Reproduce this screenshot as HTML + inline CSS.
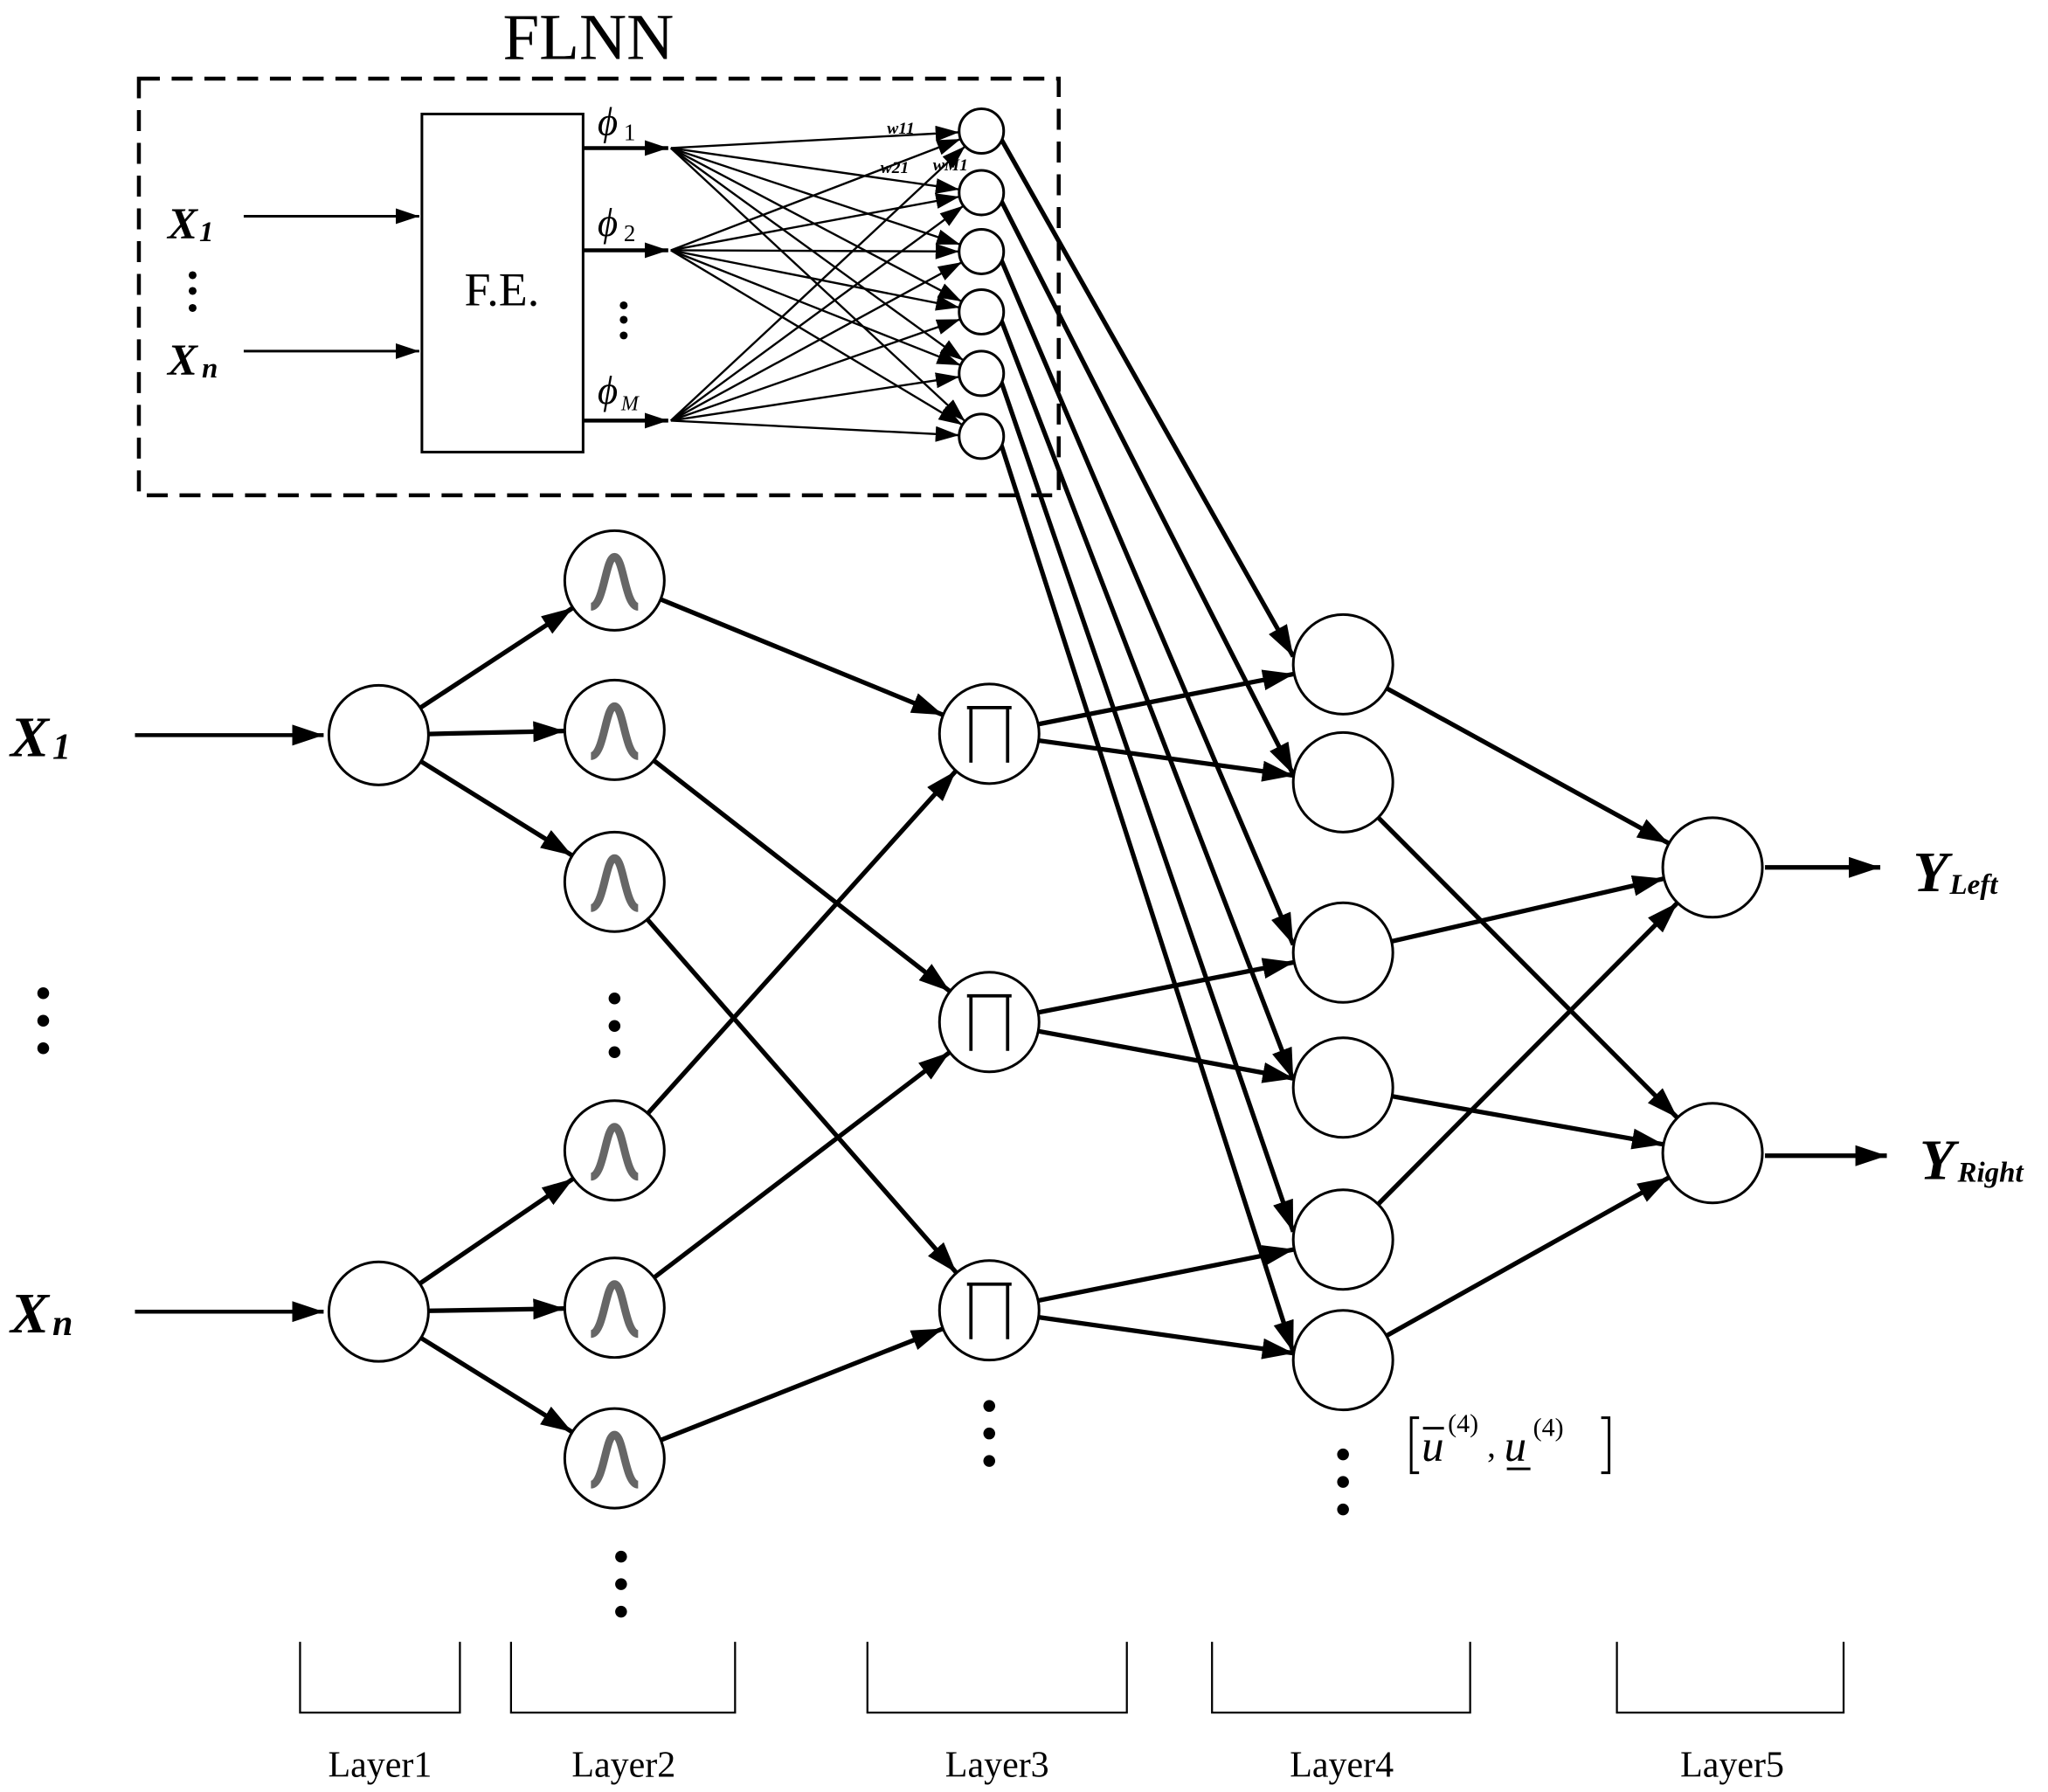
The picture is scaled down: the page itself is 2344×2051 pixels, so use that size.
<!DOCTYPE html>
<html><head><meta charset="utf-8"><style>
html,body{margin:0;padding:0;background:#fff}
svg{display:block}
text{font-family:"Liberation Serif",serif;fill:#000}
.b{font-weight:bold;font-style:italic}
</style></head><body>
<svg id="s" xmlns="http://www.w3.org/2000/svg" width="2344" height="2051" viewBox="0 0 1563 1367.6">
<defs>
<marker id="a" markerUnits="userSpaceOnUse" markerWidth="26" markerHeight="20" refX="24" refY="8" orient="auto"><path d="M0,0 L24,8 L0,16 Z" fill="#000"/></marker>
<marker id="s1" markerUnits="userSpaceOnUse" markerWidth="20" markerHeight="14" refX="18" refY="6" orient="auto"><path d="M0,0 L18,6 L0,12 Z" fill="#000"/></marker>
</defs>
<rect x="106" y="60" width="702" height="318" fill="none" stroke="#000" stroke-width="3" stroke-dasharray="16,9"/>
<text x="449" y="45" font-size="50" text-anchor="middle">FLNN</text>
<rect x="322" y="87" width="123" height="258" fill="none" stroke="#000" stroke-width="2"/>
<text x="383" y="233" font-size="36" text-anchor="middle">F.E.</text>
<text x="128" y="182" font-size="34" class="b">X</text><text x="152" y="184" font-size="22" class="b">1</text>
<text x="128" y="286" font-size="34" class="b">X</text><text x="154" y="288" font-size="22" class="b">n</text>
<circle cx="147" cy="210" r="3"/><circle cx="147" cy="222" r="3"/><circle cx="147" cy="235" r="3"/>
<text x="456" y="103" font-size="30" font-style="italic">ϕ</text><text x="476" y="107" font-size="18">1</text>
<text x="456" y="180" font-size="30" font-style="italic">ϕ</text><text x="476" y="184" font-size="18">2</text>
<text x="456" y="308" font-size="30" font-style="italic">ϕ</text><text x="474" y="313" font-size="16" font-style="italic">M</text>
<circle cx="476" cy="233" r="3"/><circle cx="476" cy="244" r="3"/><circle cx="476" cy="256" r="3"/>
<text x="677" y="102" font-size="13" class="b">w11</text>
<text x="672" y="132" font-size="13" class="b">w21</text>
<text x="712" y="130" font-size="13" class="b">wM1</text>
<text x="8" y="577" font-size="44" class="b">X</text><text x="40" y="579" font-size="28" class="b">1</text>
<text x="8" y="1017" font-size="44" class="b">X</text><text x="40" y="1019" font-size="28" class="b">n</text>
<text x="1460" y="680" font-size="44" class="b">Y</text><text x="1488" y="682" font-size="22" class="b">Left</text>
<text x="1465" y="900" font-size="44" class="b">Y</text><text x="1494" y="902" font-size="22" class="b">Right</text>
<text x="1085" y="1115" font-size="34" font-style="italic">u</text>
<line x1="1086" y1="1090" x2="1102" y2="1090" stroke="#000" stroke-width="2"/>
<text x="1105" y="1093" font-size="20">(4)</text>
<text x="1135" y="1112" font-size="26">,</text>
<text x="1148" y="1115" font-size="34" font-style="italic">u</text>
<line x1="1150" y1="1121" x2="1168" y2="1121" stroke="#000" stroke-width="2"/>
<text x="1170" y="1096" font-size="20">(4)</text>
<path d="M1083,1082 H1077 V1124 H1083 M1222,1082 H1228 V1124 H1222" fill="none" stroke="#000" stroke-width="2"/>
<g font-size="28" text-anchor="middle">
<text x="290" y="1356">Layer1</text><text x="476" y="1356">Layer2</text><text x="761" y="1356">Layer3</text><text x="1024" y="1356">Layer4</text><text x="1322" y="1356">Layer5</text>
</g>
<path d="M229,1253V1307H351V1253 M390,1253V1307H561V1253 M662,1253V1307H860V1253 M925,1253V1307H1122V1253 M1234,1253V1307H1407V1253" fill="none" stroke="#000" stroke-width="1.5"/>
<g id="g"></g>
</svg>
<script>
var NS="http://www.w3.org/2000/svg",G=document.getElementById("g");
function el(t,a){var e=document.createElementNS(NS,t);for(var k in a)e.setAttribute(k,a[k]);G.appendChild(e);return e;}
function line(x1,y1,x2,y2,w,m){var a={x1:x1,y1:y1,x2:x2,y2:y2,stroke:"#000","stroke-width":w};if(m)a["marker-end"]="url(#"+m+")";el("line",a);}
function toC(x1,y1,cx,cy,r,w,m){var dx=cx-x1,dy=cy-y1,d=Math.hypot(dx,dy);line(x1,y1,cx-dx/d*r,cy-dy/d*r,w,m);}
function fromTo(ax,ay,ar,cx,cy,r,w,m){var dx=cx-ax,dy=cy-ay,d=Math.hypot(dx,dy);line(ax+dx/d*ar,ay+dy/d*ar,cx-dx/d*r,cy-dy/d*r,w,m);}
function circ(x,y,r,w){el("circle",{cx:x,cy:y,r:r,fill:"#fff",stroke:"#000","stroke-width":w});}
function dots(x,ys){ys.forEach(function(y){el("circle",{cx:x,cy:y,r:4.5,fill:"#000"});});}
line(186,165,320,165,2,"s1");line(186,268,320,268,2,"s1");
var ph=[113,191,321];ph.forEach(function(y){line(445,y,510,y,3,"s1");});
var fn=[100,147,192,238,285,333];
ph.forEach(function(y){fn.forEach(function(ny){toC(512,y,749,ny,17,1.6,"s1");});});
var L4=[507,597,727,830,946,1038];
fn.forEach(function(ny,i){line(764,ny+6,987,L4[i]-6,3.5,"a");});
fn.forEach(function(ny){circ(749,ny,17,2);});
line(103,561,247,561,3,"a");line(103,1001,247,1001,3,"a");
var L2=[443,557,673,878,998,1113];
[0,1,2].forEach(function(i){fromTo(289,561,38,469,L2[i],38,3.5,"a");});
[3,4,5].forEach(function(i){fromTo(289,1001,38,469,L2[i],38,3.5,"a");});
var L3=[560,780,1000];
var m23=[0,1,2,0,1,2];
L2.forEach(function(y,i){fromTo(469,y,38,755,L3[m23[i]],38,3.5,"a");});
L3.forEach(function(y,i){fromTo(755,y,38,1025,L4[2*i],38,3.5,"a");fromTo(755,y,38,1025,L4[2*i+1],38,3.5,"a");});
var L5=[662,880];
L4.forEach(function(y,i){fromTo(1025,y,38,1307,L5[i%2],38,3.5,"a");});
line(1347,662,1435,662,3.5,"a");line(1347,882,1440,882,3.5,"a");
circ(289,561,38,2);circ(289,1001,38,2);
L2.forEach(function(y){circ(469,y,38,2);el("path",{d:"M451,"+(y+20)+" C461,"+(y+20)+" 462,"+(y-18)+" 469,"+(y-18)+" C476,"+(y-18)+" 477,"+(y+20)+" 487,"+(y+20),fill:"none",stroke:"#666","stroke-width":6});});
L3.forEach(function(y){circ(755,y,38,2);el("path",{d:"M738,"+(y-20)+" H772 M741,"+(y-20)+" V"+(y+22)+" M769,"+(y-20)+" V"+(y+22),fill:"none",stroke:"#000","stroke-width":2.5});});
L4.forEach(function(y){circ(1025,y,38,2);});
L5.forEach(function(y){circ(1307,y,38,2);});
dots(33,[758,779,800]);dots(469,[762,783,803]);dots(474,[1188,1209,1230]);dots(755,[1073,1094,1115]);dots(1025,[1110,1131,1152]);
</script>
</body></html>
